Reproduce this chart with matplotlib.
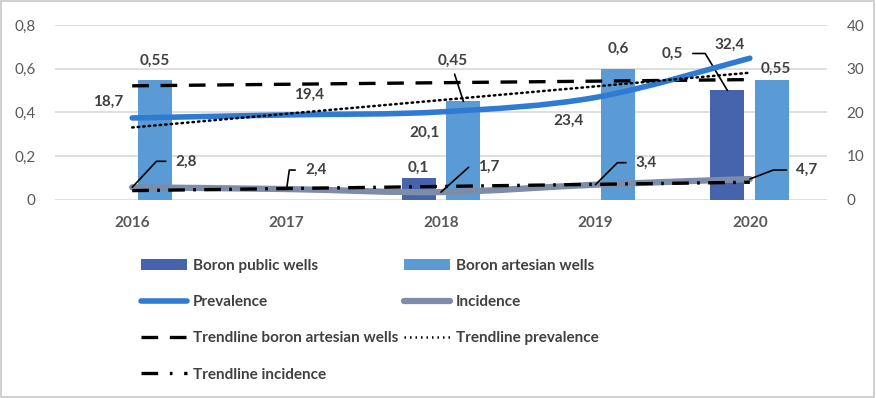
import numpy as np
import matplotlib.pyplot as plt
from matplotlib.path import Path
from matplotlib.patches import PathPatch, Rectangle
from matplotlib.lines import Line2D

plt.rcParams['font.family'] = ['Lato', 'DejaVu Sans']

# data
years = ['2016', '2017', '2018', '2019', '2020']
boron_public = [np.nan, np.nan, 0.1, np.nan, 0.5]
boron_artesian = [0.55, np.nan, 0.45, 0.6, 0.55]
prevalence = [18.7, 19.4, 20.1, 23.4, 32.4]
incidence = [2.8, 2.4, 1.7, 3.4, 4.7]

c_public = '#4664AC'
c_artesian = '#5B9BD5'
c_prev = '#2F7BD3'
c_inc = '#7D8CA8'
c_text = '#404040'
c_tick = '#595959'
c_grid = '#D9D9D9'

fig = plt.figure(figsize=(8.76, 3.98), dpi=100)
fig.patches.append(Rectangle((0.001, 0.002), 0.997, 0.995, transform=fig.transFigure,
                             fill=False, edgecolor='#C8C8C8', lw=1.2))
ax = fig.add_axes([0.0628, 0.4987, 0.8813, 0.4383])
ax2 = ax.twinx()

x = np.arange(len(years))
w = 0.22
off = 0.145
bars_pub = ax.bar(x - off, boron_public, w, color=c_public, zorder=2)
bars_art = ax.bar(x + off, boron_artesian, w, color=c_artesian, zorder=2)

ax.set_xlim(-0.5, 4.5)
ax.set_ylim(0, 0.8)
ax.set_yticks([0, 0.2, 0.4, 0.6, 0.8])
ax.set_yticklabels(['0', '0,2', '0,4', '0,6', '0,8'])
ax2.set_ylim(0, 40)
ax2.set_yticks([0, 10, 20, 30, 40])
ax.set_xticks(x)
ax.set_xticklabels(years, fontweight='bold')
for a in (ax, ax2):
    for s in a.spines.values():
        s.set_visible(False)
    a.tick_params(length=0, labelsize=11, labelcolor=c_tick)
ax.tick_params(axis='y', pad=14)
ax2.tick_params(axis='y', pad=14)
ax.tick_params(axis='x', pad=12)
ax.grid(axis='y', color=c_grid, lw=1.2, zorder=0)
ax.set_axisbelow(True)


def smooth_path(xs, ys):
    # excel-like smoothed line (catmull-rom as cubic bezier)
    p = np.column_stack([xs, ys]).astype(float)
    ext = np.vstack([p[0], p, p[-1]])
    verts = [p[0]]
    codes = [Path.MOVETO]
    for i in range(len(p) - 1):
        p0, p1, p2, p3 = ext[i], ext[i + 1], ext[i + 2], ext[i + 3]
        verts += [p1 + (p2 - p0) / 6, p2 - (p3 - p1) / 6, p2]
        codes += [Path.CURVE4] * 3
    return Path(verts, codes)


ax2.add_patch(PathPatch(smooth_path(x, prevalence), fill=False, edgecolor=c_prev,
                        lw=4, capstyle='round', zorder=3))
ax2.add_patch(PathPatch(smooth_path(x, incidence), fill=False, edgecolor=c_inc,
                        lw=4.5, capstyle='round', zorder=3))

# linear trendlines
art = np.array(boron_artesian)
ok = ~np.isnan(art)
fit_art = np.polyfit(x[ok], art[ok], 1)
fit_prev = np.polyfit(x, prevalence, 1)
fit_inc = np.polyfit(x, incidence, 1)
ax.plot(x, np.polyval(fit_art, x), color='black', lw=2.4, dashes=(5, 3.5), zorder=4)
ax2.plot(x, np.polyval(fit_prev, x), color='black', lw=1.8, linestyle=(0, (0.6, 1.6)),
         dash_capstyle='round', zorder=4)
ax2.plot(x, np.polyval(fit_inc, x), color='black', lw=2.4, dashes=(5, 2.5, 0.8, 2.5), zorder=4)

lab = dict(fontsize=11, fontweight='bold', color=c_text, ha='center', va='center',
           textcoords='offset pixels')
line_kw = dict(arrowstyle='-', color='black', lw=1.2)


def num(v):
    return f'{v:g}'.replace('.', ',')


# bar labels
ax.annotate(num(boron_artesian[0]), (x[0] + off, boron_artesian[0]), xytext=(0, 19), **lab)
ax.annotate(num(boron_public[2]), (x[2] - off, boron_public[2]), xytext=(0, 10), **lab)
ax.annotate(num(boron_artesian[2]), (x[2] + off, boron_artesian[2]), xytext=(-11, 41),
            arrowprops=dict(relpos=(0.5, 0), shrinkA=3, shrinkB=0, **line_kw), **lab)
ax.annotate(num(boron_artesian[3]), (x[3] + off, boron_artesian[3]), xytext=(0, 20), **lab)
ax.annotate(num(boron_public[4]), (x[4] - off, boron_public[4]), xytext=(-55, 37),
            arrowprops=dict(relpos=(1, 0.5), shrinkA=5, shrinkB=0,
                            connectionstyle='angle,angleA=0,angleB=121,rad=0', **line_kw), **lab)
ax.annotate(num(boron_artesian[4]), (x[4] + off, boron_artesian[4]), xytext=(4, 11), **lab)

# prevalence labels
for i, (dx, dy) in enumerate([(-24, 16), (22, 20), (-16, -21), (-27, -23), (-20, 13)]):
    ax2.annotate(num(prevalence[i]), (x[i], prevalence[i]), xytext=(dx, dy), **lab)

# incidence labels with leader lines
for i, (dx, dy, ang) in enumerate([(54, 26, 47), (29, 19, 82), (48, 25, 42),
                                   (51, 22, 45), (57, 9, 21)]):
    ax2.annotate(num(incidence[i]), (x[i], incidence[i]), xytext=(dx, dy),
                 arrowprops=dict(relpos=(0, 0.5), shrinkA=5, shrinkB=0,
                                 connectionstyle=f'angle,angleA=0,angleB={ang},rad=0',
                                 **line_kw), **lab)

# legend
h_prev = Line2D([], [], color=c_prev, lw=4, solid_capstyle='round')
h_inc = Line2D([], [], color=c_inc, lw=4.5, solid_capstyle='round')
h_tart = Line2D([], [], color='black', lw=2.4, dashes=(5, 3.5))
h_tprev = Line2D([], [], color='black', lw=1.8, linestyle=(0, (0.6, 1.6)))
h_tinc = Line2D([], [], color='black', lw=2.4, dashes=(5, 3.5, 0.8, 3.5))
handles = [bars_pub, h_prev, h_tart, h_tinc, bars_art, h_inc, h_tprev]
labels = ['Boron public wells', 'Prevalence', 'Trendline boron artesian wells',
          'Trendline incidence', 'Boron artesian wells', 'Incidence', 'Trendline prevalence']
leg = fig.legend(handles, labels, ncol=2, loc='upper left', bbox_to_anchor=(0.152, 0.368),
                 frameon=False, prop=dict(size=11, weight='bold'), labelcolor=c_text,
                 handlelength=3.0, handleheight=0.7, handletextpad=0.4,
                 columnspacing=0.4, labelspacing=1.45, borderpad=0)

fig.savefig('out.png', dpi=100)
